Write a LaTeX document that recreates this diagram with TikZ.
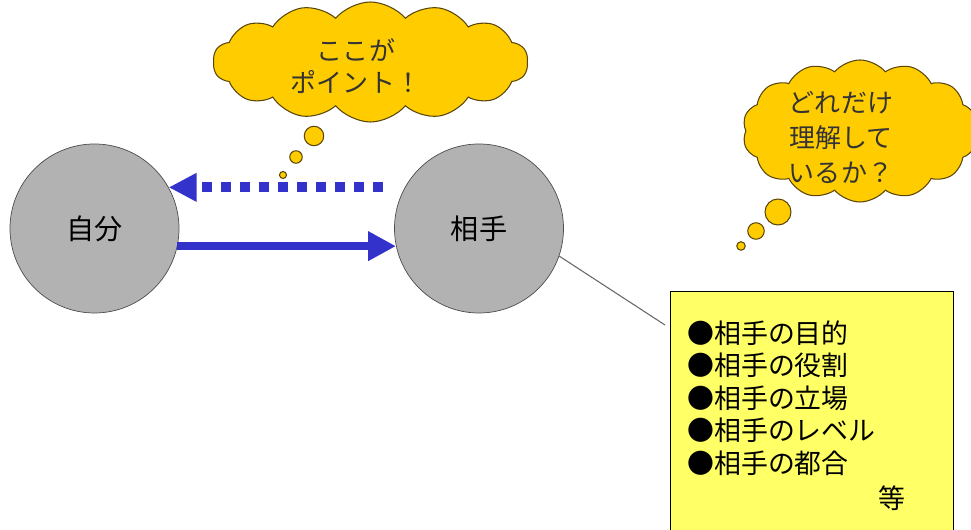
\documentclass[tikz,border=0pt]{standalone}
\usepackage{fontspec}
\setmainfont{Noto Sans CJK JP}
\usepackage{tikz}
\usetikzlibrary{arrows.meta}
\usetikzlibrary{shapes.symbols}

\definecolor{arrowblue}{RGB}{51,51,204}
\definecolor{personfill}{RGB}{178,178,178}
\definecolor{cloudfill}{RGB}{255,204,0}
\definecolor{cloudline}{RGB}{90,70,10}
\definecolor{notefill}{RGB}{255,255,102}

\begin{document}
\begin{tikzpicture}[
    person/.style={circle, draw=black!70, fill=personfill, minimum size=3.38cm,
      inner sep=0pt, font=\fontsize{16}{18}\selectfont},
    thought/.style={cloud, cloud puffs=14, cloud puff arc=100, draw=cloudline,
      fill=cloudfill, line width=0.6pt, inner sep=0pt},
    bubble/.style={draw=cloudline, fill=cloudfill, line width=0.6pt},
    cloudtext/.style={align=center, text=black!80, inner sep=0pt},
    listitem/.style={anchor=west, inner sep=0pt, font=\fontsize{15.3}{18}\selectfont}
  ]
  \useasboundingbox (0,0) rectangle (19.42,10.6);

  % the two people
  \node[person] (me) at (1.89,6.03) {自分};
  \node[person] (you) at (9.58,6.03) {相手};

  % arrows between them
  \draw[arrowblue, line width=0.16cm, -{Triangle[length=0.56cm,width=0.56cm]}]
    (me.-12) -- (you.192);
  \draw[arrowblue, line width=0.2cm, dash pattern=on 0.2cm off 0.18cm,
    shorten <=0.44cm, -{Triangle[length=0.56cm,width=0.54cm]}]
    (you.151) -- (me.29);

  % thought cloud over the dotted arrow
  \node[thought, minimum width=6.3cm, minimum height=2.4cm, aspect=2.6] (point) at (7.41,9.36) {};
  \node[cloudtext, font=\fontsize{14.8}{18.2}\selectfont] (pointtext) at (7.12,9.28) {ここが\\ポイント！};
  \draw[bubble] (5.66,7.10) circle (0.07);
  \draw[bubble] (5.92,7.46) circle (0.125);
  \draw[bubble] (6.28,7.88) circle (0.195);

  % thought cloud on the right
  \node[thought, minimum width=4.7cm, minimum height=2.84cm, aspect=1.6] (grasp) at (17.2,7.98) {};
  \node[cloudtext, font=\fontsize{14.8}{19.9}\selectfont] (grasptext) at (16.82,7.86) {どれだけ\\理解して\\いるか？};
  \draw[bubble] (14.82,5.68) circle (0.085);
  \draw[bubble] (15.12,5.98) circle (0.165);
  \draw[bubble] (15.56,6.36) circle (0.26);

  % note about the other person
  \node[draw=black, fill=notefill, line width=0.6pt, anchor=north west,
    minimum width=5.66cm, minimum height=5cm] (note) at (13.4,4.78) {};
  \foreach \what [count=\i] in {目的,役割,立場,レベル,都合}
    \node[listitem] (item\i) at (13.74,3.94-0.65*\i+0.65) {●相手の\what};
  \node[listitem, anchor=center] (etc) at (17.84,0.64) {等};

  \coordinate (tail) at (13.3,4.1);
  \draw[black!60, line width=0.6pt] (you.-19) -- (tail);
\end{tikzpicture}
\end{document}
